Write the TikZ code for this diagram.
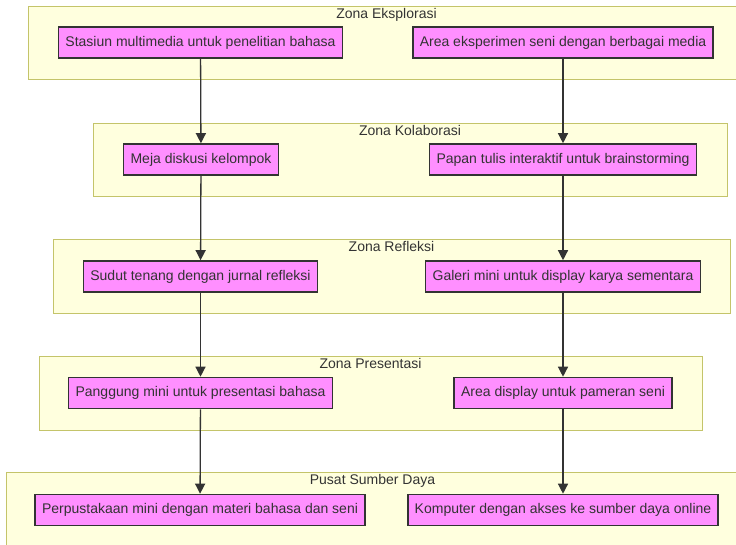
\documentclass[tikz,border=0pt]{standalone}
\usepackage{fontspec}
\setmainfont{Liberation Sans}
\usetikzlibrary{arrows.meta}
\definecolor{zonefill}{HTML}{FFFFDE}
\definecolor{zoneline}{HTML}{C4C46A}
\definecolor{itemfill}{HTML}{FF8FFF}
\definecolor{ink}{HTML}{333333}
\tikzset{
  zone/.style={draw=zoneline, fill=zonefill, line width=1pt},
  zonetitle/.style={anchor=base, text=ink, font=\fontsize{14pt}{16pt}\selectfont, inner sep=0pt},
  item/.style={draw=ink, fill=itemfill, line width=1.6pt, text=ink,
    font=\fontsize{14pt}{16pt}\selectfont, inner xsep=7pt, inner ysep=0pt,
    minimum height=31pt},
  flow/.style={draw=ink, line width=1.3pt, -{Triangle[length=10pt,width=10pt]}}
}
\begin{document}
\begin{tikzpicture}[x=1pt,y=-1pt]
\clip (0,0) rectangle (736,544);
\fill[white] (0,0) rectangle (736,544);

% zones
\draw[zone] (28,6) rectangle (745,79);
\node[zonetitle] (t1) at (386.5,18.5) {Zona Eksplorasi};
\draw[zone] (93,123) rectangle (727,196);
\node[zonetitle] (t2) at (410,135.5) {Zona Kolaborasi};
\draw[zone] (53,239) rectangle (730,313);
\node[zonetitle] (t3) at (391.5,251.5) {Zona Refleksi};
\draw[zone] (39,356) rectangle (702,430);
\node[zonetitle] (t4) at (370.5,368.5) {Zona Presentasi};
\draw[zone] (6,472) rectangle (745,560);
\node[zonetitle] (t5) at (372.5,484.5) {Pusat Sumber Daya};

% items
\node[item] (a1) at (200.5,42.5) {Stasiun multimedia untuk penelitian bahasa};
\node[item] (b1) at (563,42.5) {Area eksperimen seni dengan berbagai media};
\node[item] (a2) at (201,159.5) {Meja diskusi kelompok};
\node[item] (b2) at (563,159.5) {Papan tulis interaktif untuk brainstorming};
\node[item] (a3) at (200.5,276.5) {Sudut tenang dengan jurnal refleksi};
\node[item] (b3) at (563,276.5) {Galeri mini untuk display karya sementara};
\node[item] (a4) at (200.5,393) {Panggung mini untuk presentasi bahasa};
\node[item] (b4) at (563,393) {Area display untuk pameran seni};
\node[item] (a5) at (200,510) {Perpustakaan mini dengan materi bahasa dan seni};
\node[item] (b5) at (563,510) {Komputer dengan akses ke sumber daya online};

% flows
\draw[flow] (a1) -- (a2);
\draw[flow] (a2) -- (a3);
\draw[flow] (a3) -- (a4);
\draw[flow] (a4) -- (a5);
\draw[flow] (b1) -- (b2);
\draw[flow] (b2) -- (b3);
\draw[flow] (b3) -- (b4);
\draw[flow] (b4) -- (b5);
\end{tikzpicture}
\end{document}
